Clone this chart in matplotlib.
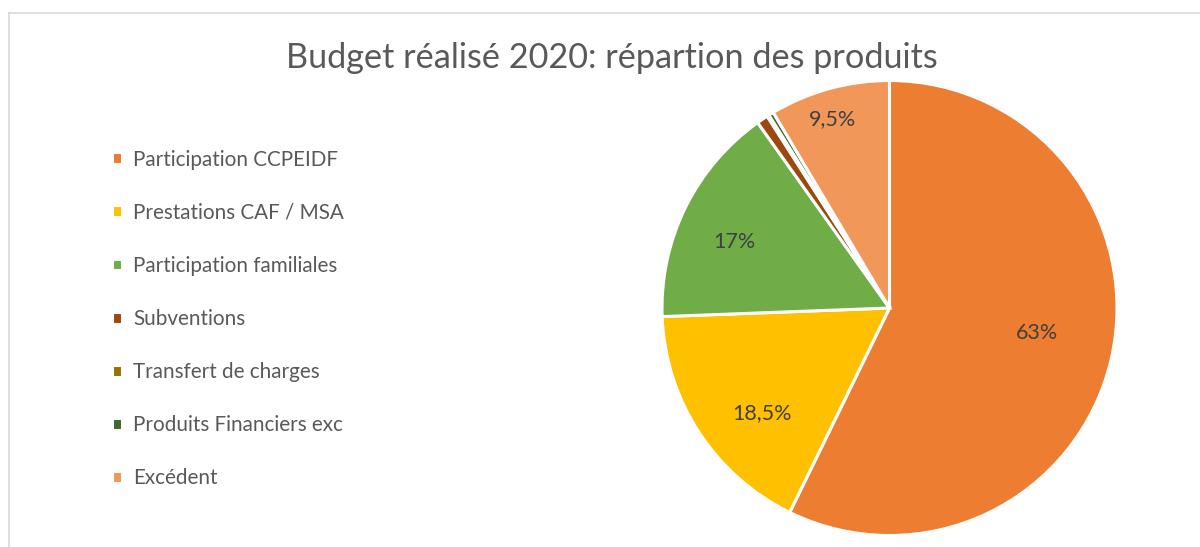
import matplotlib
matplotlib.use("Agg")
import matplotlib.pyplot as plt
import numpy as np

# Données du graphique
categories = ["Participation CCPEIDF", "Prestations CAF / MSA", "Participation familiales",
              "Subventions", "Transfert de charges", "Produits Financiers exc", "Excédent"]
values = [57.0, 17.1, 15.7, 0.8, 0.15, 0.35, 8.5]
labels = ["63%", "18,5%", "17%", "", "", "", "9,5%"]
colors = ["#ED7D31", "#FFC000", "#70AD47", "#9E480E", "#997300", "#43682B", "#F1975A"]
# position des étiquettes : rayon relatif et décalage angulaire (degrés)
label_radius = [0.656, 0.726, 0.74, 0, 0, 0, 0.866]
label_shift = [3.4, 6.4, 3.1, 0, 0, 0, 1.5]

plt.rcParams['font.family'] = ['Lato', 'DejaVu Sans']

fig = plt.figure(figsize=(12, 5.47), dpi=100)

# Cadre gris clair
fig.add_artist(plt.Line2D([9 / 1200, 1.0], [1 - 13 / 547, 1 - 13 / 547], color="#D9D9D9", lw=1.2))
fig.add_artist(plt.Line2D([9 / 1200, 9 / 1200], [0.0, 1 - 13 / 547], color="#D9D9D9", lw=1.2))

ax = fig.add_axes([662 / 1200, 11.5 / 547, 455 / 1200, 455 / 547])
wedges, _ = ax.pie(values, colors=colors, startangle=90, counterclock=False,
                   wedgeprops=dict(edgecolor="white", linewidth=2.2))
ax.set_xlim(-1, 1)
ax.set_ylim(-1, 1)
ax.set_aspect("equal")

# Etiquettes de données
for w, lab, r, s in zip(wedges, labels, label_radius, label_shift):
    if not lab:
        continue
    a = np.deg2rad((w.theta1 + w.theta2) / 2 + s)
    ax.text(r * np.cos(a), r * np.sin(a), lab, ha="center", va="center",
            fontsize=15.5, color="#404040")

fig.text(612 / 1200, 1 - 58 / 547, "Budget réalisé 2020: répartion des produits",
         ha="center", va="center", fontsize=24.7, color="#595959")

fig.legend(wedges, categories, loc="upper left", bbox_to_anchor=(93 / 1200, 1 - 131 / 547),
           frameon=False, fontsize=14.9, labelcolor="#595959", handlelength=0.5,
           handleheight=0.5, handletextpad=0.55, labelspacing=1.6)

plt.savefig("out.png", dpi=100)
